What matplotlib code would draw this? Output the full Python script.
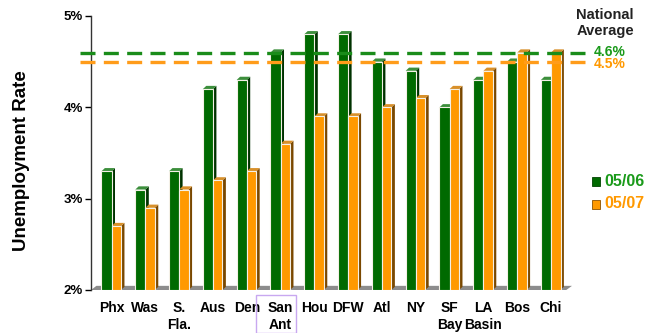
import matplotlib
matplotlib.use("Agg")
import matplotlib.pyplot as plt
from matplotlib.patches import Rectangle

plt.rcParams["font.family"] = ["Liberation Sans", "DejaVu Sans"]

cities = ["Phx", "Was", "S.\nFla.", "Aus", "Den", "San\nAnt", "Hou", "DFW",
          "Atl", "NY", "SF\nBay", "LA\nBasin", "Bos", "Chi"]
rate_0506 = [3.3, 3.1, 3.3, 4.2, 4.3, 4.6, 4.8, 4.8, 4.5, 4.4, 4.0, 4.3, 4.5, 4.3]
rate_0507 = [2.7, 2.9, 3.1, 3.2, 3.3, 3.6, 3.9, 3.9, 4.0, 4.1, 4.2, 4.4, 4.6, 4.6]
nat_0506 = 4.6
nat_0507 = 4.5

C_GRN = "#006a00"
C_GRN_SIDE = "#003300"
C_GRN_TOP = "#3c8f3c"
C_ORG = "#ff9900"
C_ORG_SIDE = "#7a4800"
C_ORG_TOP = "#d8902a"
C_GRN_TXT = "#1a9a1a"
C_ORG_TXT = "#ff9900"

W_G = 0.30
W_O = 0.28
DX = 0.10   # 3d depth, x units
DY = 0.035  # 3d depth, y units
BASE = 2.0


def bar3d(ax, x0, w, h, face, side, top):
    ax.fill([x0 + w, x0 + w + DX, x0 + w + DX, x0 + w],
            [BASE, BASE + DY, h + DY, h], color=side, lw=0, zorder=3)
    ax.fill([x0, x0 + DX, x0 + w + DX, x0 + w],
            [h, h + DY, h + DY, h], color=top, lw=0, zorder=3)
    ax.add_patch(Rectangle((x0, BASE), w, h - BASE, facecolor=face,
                           edgecolor="#f4f0e6", lw=0.8, zorder=4))


fig = plt.figure(figsize=(6.46, 3.33), dpi=100)
ax = fig.add_axes([91 / 646, 43 / 333, 481 / 646, 274 / 333])
ax.set_xlim(-0.61, 13.62)
ax.set_ylim(2, 5)

# floor
ax.fill([-0.61, 13.45, 13.62, -0.45], [BASE, BASE, BASE + DY * 1.3, BASE + DY * 1.3],
        color="#8c8c8c", lw=0, zorder=2, clip_on=False)

for i in range(len(cities)):
    bar3d(ax, i - W_G, W_G, rate_0506[i], C_GRN, C_GRN_SIDE, C_GRN_TOP)
    bar3d(ax, i, W_O, rate_0507[i], C_ORG, C_ORG_SIDE, C_ORG_TOP)

# national average lines
ax.plot([-0.95, 14.2], [nat_0506] * 2, color="#1a8c1a", lw=2.4,
        dashes=(4.5, 2.5), clip_on=False, zorder=5)
ax.plot([-0.95, 14.2], [nat_0507] * 2, color="#ff9c1a", lw=2.4,
        dashes=(4.5, 2.5), clip_on=False, zorder=5)

ax.text(14.25, nat_0506 + 0.01, "4.6%", color=C_GRN_TXT, fontsize=10,
        fontweight="bold", va="center", ha="left")
ax.text(14.25, nat_0507 - 0.03, "4.5%", color=C_ORG_TXT, fontsize=10,
        fontweight="bold", va="center", ha="left")
fig.text(605 / 646, 1 - 23 / 333, "National\nAverage", ha="center",
         va="center", fontsize=10.5, fontweight="bold", color="#222222",
         linespacing=1.15)

# legend
fig.patches.append(Rectangle((592 / 646, 1 - 186 / 333), 8 / 646, 9 / 333,
                             facecolor=C_GRN, edgecolor="#004400", lw=0.6,
                             transform=fig.transFigure, figure=fig))
fig.patches.append(Rectangle((592 / 646, 1 - 209 / 333), 8 / 646, 9 / 333,
                             facecolor=C_ORG, edgecolor="#8a5000", lw=0.6,
                             transform=fig.transFigure, figure=fig))
fig.text(604 / 646, 1 - 181 / 333, "05/06", color=C_GRN_TXT, fontsize=11.5,
         fontweight="bold", va="center", ha="left")
fig.text(604 / 646, 1 - 204 / 333, "05/07", color=C_ORG_TXT, fontsize=11.5,
         fontweight="bold", va="center", ha="left")

# axes styling
for s in ("top", "right", "bottom"):
    ax.spines[s].set_visible(False)
ax.spines["left"].set_color("#333333")
ax.spines["left"].set_linewidth(1.0)
ax.set_yticks([2, 3, 4, 5])
ax.set_yticklabels(["2%", "3%", "4%", "5%"], fontsize=9.5, fontweight="bold")
ax.tick_params(axis="y", length=4, width=1, pad=2)
ax.set_xticks(range(len(cities)))
ax.set_xticklabels(cities, fontsize=10, fontweight="bold", linespacing=1.3,
                   va="top")
ax.tick_params(axis="x", length=0, pad=8)

# box around San Ant
fig.patches.append(Rectangle((256 / 646, 0), 40 / 646, 38 / 333,
                             facecolor="none", edgecolor="#c8a8f0", lw=1.0,
                             transform=fig.transFigure, figure=fig))

fig.text(22 / 646, 1 - 161 / 333, "Unemployment Rate", rotation=90,
         ha="center", va="center", fontsize=13.5, fontweight="bold")

fig.savefig("out.png", dpi=100, facecolor="white")
